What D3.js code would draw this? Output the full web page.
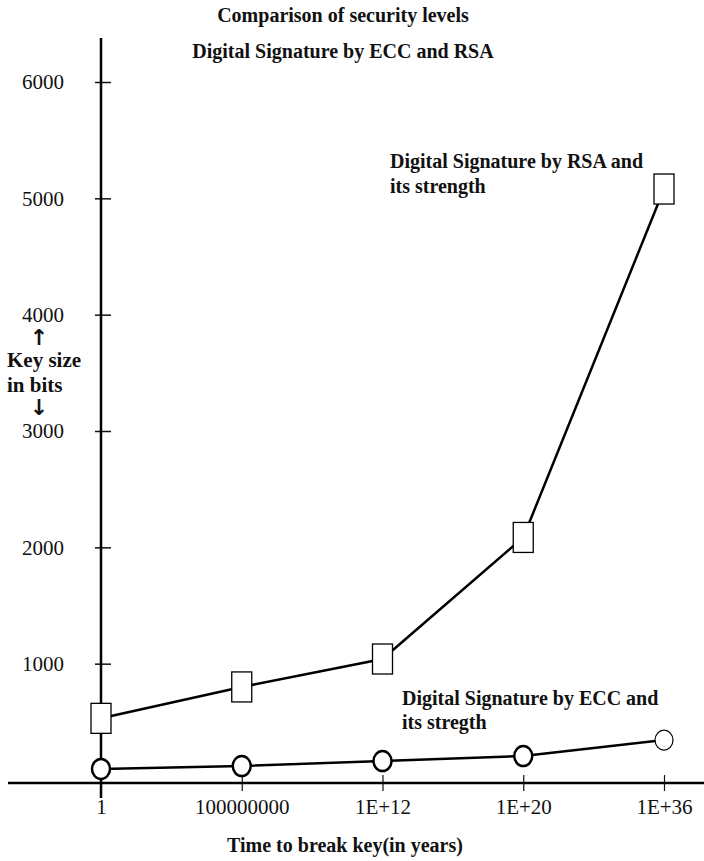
<!DOCTYPE html>
<html>
<head>
<meta charset="utf-8">
<script src="https://cdn.jsdelivr.net/npm/d3@7"></script>
<style>
  body { margin: 0; background: #fff; }
  svg text { font-family: "Liberation Serif", "Times New Roman", serif; font-weight: bold; fill: #111; }
</style>
</head>
<body>
<div id="chart"></div>
<script>
// categories on the x axis (time to break key, years)
const categories = ['1', '100000000', '1E+12', '1E+20', '1E+36']
// key sizes
const rsaValues = [530, 800, 1040, 2085, 5080]
const eccValues = [95, 120, 163, 206, 343]
const yTicks = [1000, 2000, 3000, 4000, 5000, 6000]

const width = 704
const height = 861
const serif = '"Liberation Serif", "Times New Roman", serif'

const svg = d3.select('#chart')
    .append('svg')
    .attr('width', width)
    .attr('height', height)

// scales
const x = d3.scalePoint()
    .domain(categories)
    .range([101, 664])

const y = d3.scaleLinear()
    .domain([0, 6000])
    .range([780, 82])

// titles
svg.append('text')
    .attr('x', 343).attr('y', 22)
    .attr('text-anchor', 'middle')
    .style('font-size', '20px')
    .text('Comparison of security levels')

svg.append('text')
    .attr('x', 343).attr('y', 58)
    .attr('text-anchor', 'middle')
    .style('font-size', '20px')
    .text('Digital Signature by ECC and RSA')

// y axis
const yAxis = svg.append('g')
    .attr('transform', 'translate(101,0)')
    .call(d3.axisLeft(y).tickValues(yTicks).tickSizeInner(6).tickSizeOuter(0).tickPadding(31).tickFormat(d3.format('d')))
yAxis.select('.domain').remove()
yAxis.selectAll('.tick line').attr('x1', -6).attr('x2', 10).attr('stroke', '#111').attr('stroke-width', 1.5)
yAxis.selectAll('.tick text')
    .style('font-size', '21px')
    .style('font-family', serif)
    .style('font-weight', 'normal')

svg.append('line')
    .attr('x1', 101).attr('x2', 101)
    .attr('y1', 38).attr('y2', 798)
    .attr('stroke', '#000').attr('stroke-width', 2.5)

// x axis
const xAxis = svg.append('g')
    .attr('transform', 'translate(0,783)')
    .call(d3.axisBottom(x).tickSizeInner(8).tickSizeOuter(0).tickPadding(8))
xAxis.select('.domain').remove()
xAxis.selectAll('.tick line').attr('y1', -8).attr('y2', 8).attr('stroke', '#111').attr('stroke-width', 1.2)
xAxis.selectAll('.tick text')
    .style('font-size', '21px')
    .style('font-family', serif)
    .style('font-weight', 'normal')

svg.append('line')
    .attr('x1', 8).attr('x2', width)
    .attr('y1', 783).attr('y2', 783)
    .attr('stroke', '#000').attr('stroke-width', 2.5)

svg.append('text')
    .attr('x', 345).attr('y', 852)
    .attr('text-anchor', 'middle')
    .style('font-size', '20px')
    .text('Time to break key(in years)')

// y axis label with arrows
const keyLabel = [['↑', 345], ['Key size', 367], ['in bits', 392], ['↓', 415]]
keyLabel.forEach(function (d) {
    const isArrow = d[0].length === 1
    svg.append('text')
        .attr('x', isArrow ? 39 : 7).attr('y', d[1])
        .attr('text-anchor', isArrow ? 'middle' : 'start')
        .style('font-size', isArrow ? '22px' : '21px')
        .style('font-family', isArrow ? '"DejaVu Sans", sans-serif' : serif)
        .text(d[0])
})

// lines
const line = d3.line()
    .x(function (d, i) { return x(categories[i]) })
    .y(function (d) { return y(d) })

svg.append('path')
    .datum(rsaValues)
    .attr('d', line)
    .attr('fill', 'none')
    .attr('stroke', '#000')
    .attr('stroke-width', 2.5)

svg.append('path')
    .datum(eccValues)
    .attr('d', line)
    .attr('fill', 'none')
    .attr('stroke', '#000')
    .attr('stroke-width', 2.5)

// markers
svg.selectAll('.rsa')
    .data(rsaValues)
    .enter()
    .append('rect')
    .attr('class', 'rsa')
    .attr('x', function (d, i) { return x(categories[i]) - 10 })
    .attr('y', function (d) { return y(d) - 15 })
    .attr('width', 20)
    .attr('height', 30)
    .attr('fill', '#fff')
    .attr('stroke', '#000')
    .attr('stroke-width', 1.3)

svg.selectAll('.ecc')
    .data(eccValues)
    .enter()
    .append('ellipse')
    .attr('class', 'ecc')
    .attr('cx', function (d, i) { return x(categories[i]) })
    .attr('cy', function (d) { return y(d) })
    .attr('rx', 9)
    .attr('ry', 10)
    .attr('fill', '#fff')
    .attr('stroke', '#000')
    .attr('stroke-width', function (d, i) { return i === eccValues.length - 1 ? 1.2 : 2.5 })

// series notes
const notes = [
    ['Digital Signature by RSA and', 390, 168],
    ['its strength', 390, 193],
    ['Digital Signature by ECC and', 402, 705],
    ['its stregth', 402, 729]
]
notes.forEach(function (d) {
    svg.append('text')
        .attr('x', d[1]).attr('y', d[2])
        .style('font-size', '20px')
        .text(d[0])
})
</script>
</body>
</html>
